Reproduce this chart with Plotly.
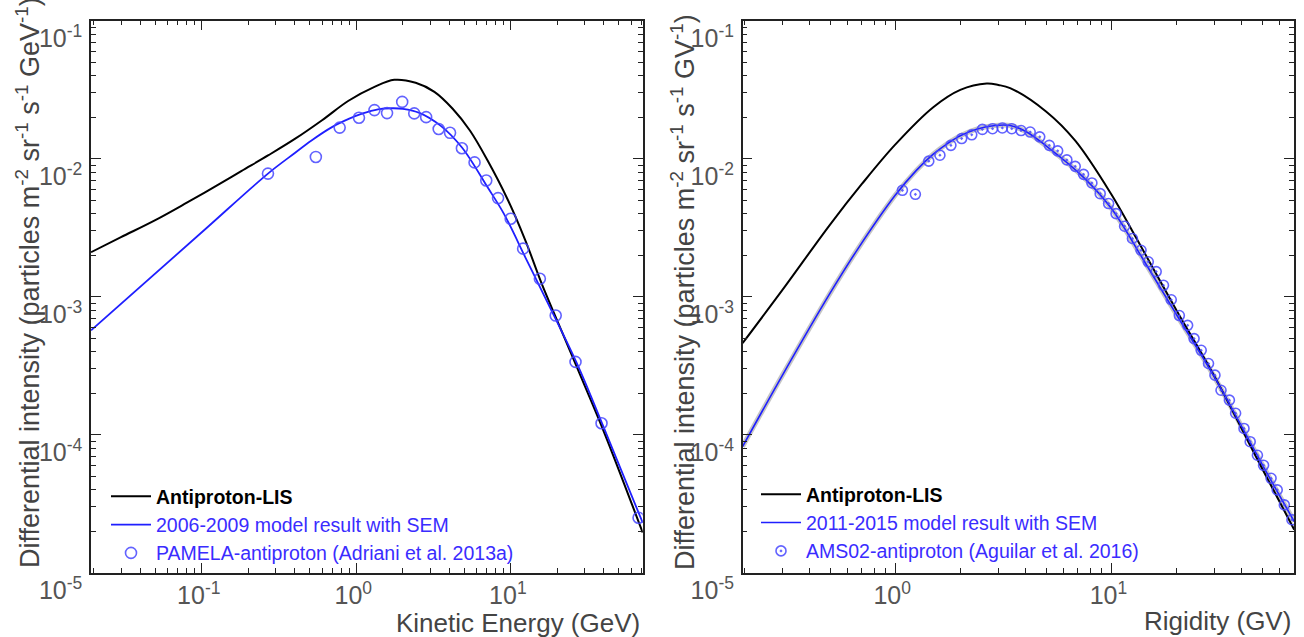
import plotly.graph_objects as go

# ---------------- Left panel: kinetic energy (GeV) ----------------
E_lis = [0.0192, 0.03, 0.05, 0.08, 0.12, 0.18, 0.27, 0.4, 0.6, 0.89, 1.3, 1.76, 2.42, 3.2, 4.2, 5.43, 7.07, 9.6, 12.4, 15.8, 20.0, 26.7, 40.0, 71.3]
I_lis = [2.1e-3, 2.7e-3, 3.59e-3, 4.8e-3, 6.22e-3, 8.13e-3, 1.06e-2, 1.39e-2, 1.9e-2, 2.63e-2, 3.3e-2, 3.73e-2, 3.55e-2, 3.05e-2, 2.3e-2, 1.6e-2, 9.7e-3, 4.98e-3, 2.56e-3, 1.25e-3, 6.66e-4, 3.1e-4, 1.05e-4, 1.95e-5]

E_mod = [0.0192, 0.1, 0.268, 0.4, 0.51, 0.7, 0.9, 1.1, 1.38, 1.7, 2.0, 2.56, 3.52, 4.84, 7.07, 9.0, 12.4, 15.8, 26.7, 40.0, 71.3]
I_mod = [5.7e-4, 2.93e-3, 7.8e-3, 1.1e-2, 1.35e-2, 1.7e-2, 1.95e-2, 2.13e-2, 2.28e-2, 2.32e-2, 2.3e-2, 2.15e-2, 1.73e-2, 1.2e-2, 6.2e-3, 4.0e-3, 1.93e-3, 1.11e-3, 3.3e-4, 1.12e-4, 2.3e-5]

E_pam = [0.268, 0.547, 0.78, 1.04, 1.31, 1.58, 1.98, 2.37, 2.83, 3.41, 4.04, 4.82, 5.82, 6.93, 8.26, 9.97, 12.0, 15.4, 19.5, 26.2, 38.6, 67.0]
I_pam = [7.8e-3, 1.03e-2, 1.68e-2, 1.98e-2, 2.25e-2, 2.14e-2, 2.58e-2, 2.13e-2, 2.0e-2, 1.64e-2, 1.54e-2, 1.19e-2, 9.4e-3, 6.95e-3, 5.18e-3, 3.67e-3, 2.23e-3, 1.35e-3, 7.3e-4, 3.37e-4, 1.21e-4, 2.5e-5]

# ---------------- Right panel: rigidity (GV) ----------------
R_lis = [0.197, 0.3, 0.5, 0.7, 1.0, 1.5, 2.0, 2.65, 3.0, 3.4, 5.0, 6.8, 10.0, 13.2, 20.0, 30.0, 50.0, 70.0]
J_lis = [4.6e-4, 1.11e-3, 3.33e-3, 6.53e-3, 1.264e-2, 2.36e-2, 3.15e-2, 3.5e-2, 3.42e-2, 3.25e-2, 2.19e-2, 1.35e-2, 5.5e-3, 2.56e-3, 7.96e-4, 2.63e-4, 5.6e-5, 2.05e-5]

R_mod = [0.197, 0.3, 0.5, 0.677, 1.0, 1.25, 1.5, 1.75, 2.0, 2.4, 2.9, 3.4, 4.0, 5.0, 7.45, 10.0, 13.8, 20.0, 30.0, 50.0, 70.0]
J_mod = [8.2e-5, 2.67e-4, 1.06e-3, 2.26e-3, 5.43e-3, 8.2e-3, 1.078e-2, 1.293e-2, 1.468e-2, 1.644e-2, 1.74e-2, 1.74e-2, 1.58e-2, 1.235e-2, 7.3e-3, 4.35e-3, 1.94e-3, 7.4e-4, 2.6e-4, 6.0e-5, 2.35e-5]

R_ams = [1.08, 1.24, 1.43, 1.61, 1.81, 2.03, 2.26, 2.53, 2.82, 3.13, 3.46, 3.82, 4.21, 4.66, 5.16, 5.64, 6.22, 6.80, 7.43, 8.12,
         8.87, 9.70, 10.5, 11.5, 12.5, 13.7, 14.8, 16.1, 17.4, 18.9, 20.6, 22.5, 24.1, 26.0, 28.1, 30.1, 32.1, 35.1, 37.5, 41.0,
         43.8, 47.3, 50.5, 54.7, 58.4, 63.0, 68.3]
J_ams = [5.9e-3, 5.52e-3, 9.6e-3, 1.06e-2, 1.25e-2, 1.40e-2, 1.49e-2, 1.63e-2, 1.65e-2, 1.67e-2, 1.65e-2, 1.60e-2, 1.56e-2, 1.44e-2, 1.25e-2, 1.14e-2, 9.8e-3, 8.8e-3, 7.7e-3, 6.67e-3,
         5.58e-3, 4.73e-3, 4.0e-3, 3.24e-3, 2.64e-3, 2.17e-3, 1.79e-3, 1.52e-3, 1.21e-3, 9.5e-4, 7.3e-4, 6.2e-4, 4.97e-4, 4.09e-4, 3.28e-4, 2.7e-4, 2.1e-4, 1.78e-4, 1.43e-4, 1.11e-4,
         8.9e-5, 7.1e-5, 6.0e-5, 4.83e-5, 3.98e-5, 3.1e-5, 2.42e-5]

y_tickvals = [1e-5, 1e-4, 1e-3, 1e-2, 1e-1]
y_ticktext = ["10<sup>-5</sup>", "10<sup>-4</sup>", "10<sup>-3</sup>", "10<sup>-2</sup>", "10<sup>-1</sup>"]
xl_tickvals = [0.1, 1, 10]
xl_ticktext = ["10<sup>-1</sup>", "10<sup>0</sup>", "10<sup>1</sup>"]
xr_tickvals = [1, 10]
xr_ticktext = ["10<sup>0</sup>", "10<sup>1</sup>"]

FONT = "Liberation Sans, Arial, sans-serif"
BLUE = "#1f1fff"
PT = "rgba(70,70,255,0.85)"
TXTBLUE = "#3a2cff"

W, H = 1304, 637
def px(x):
    return x / W
def py(y):
    return 1 - y / H

fig = go.Figure()

# left panel
fig.add_trace(go.Scatter(x=E_lis, y=I_lis, mode="lines", line=dict(color="black", width=2, shape="spline", smoothing=1.0),
                         name="<b>Antiproton-LIS</b>", xaxis="x", yaxis="y", legend="legend"))
fig.add_trace(go.Scatter(x=E_mod, y=I_mod, mode="lines", line=dict(color=BLUE, width=1.8, shape="spline", smoothing=1.0),
                         name=f'<span style="color:{TXTBLUE}">2006-2009 model result with SEM</span>', xaxis="x", yaxis="y", legend="legend"))
fig.add_trace(go.Scatter(x=E_pam, y=I_pam, mode="markers",
                         marker=dict(symbol="circle-open", size=11, color=PT, line=dict(width=1.6, color=PT)),
                         name=f'<span style="color:{TXTBLUE}">PAMELA-antiproton (Adriani et al. 2013a)</span>', xaxis="x", yaxis="y", legend="legend"))

# right panel
fig.add_trace(go.Scatter(x=R_mod, y=J_mod, mode="lines", line=dict(color="rgba(150,150,150,0.55)", width=5, shape="spline", smoothing=1.0),
                         showlegend=False, hoverinfo="skip", xaxis="x2", yaxis="y2"))
fig.add_trace(go.Scatter(x=R_lis, y=J_lis, mode="lines", line=dict(color="black", width=2, shape="spline", smoothing=1.0),
                         name="<b>Antiproton-LIS</b>", xaxis="x2", yaxis="y2", legend="legend2"))
fig.add_trace(go.Scatter(x=R_mod, y=J_mod, mode="lines", line=dict(color=BLUE, width=1.6, shape="spline", smoothing=1.0),
                         name=f'<span style="color:{TXTBLUE}">2011-2015 model result with SEM</span>', xaxis="x2", yaxis="y2", legend="legend2"))
fig.add_trace(go.Scatter(x=R_ams, y=J_ams, mode="markers",
                         marker=dict(symbol="circle-open-dot", size=10, color=PT, line=dict(width=1.6, color=PT)),
                         name=f'<span style="color:{TXTBLUE}">AMS02-antiproton (Aguilar et al. 2016)</span>', xaxis="x2", yaxis="y2", legend="legend2"))

axis_common = dict(type="log", showgrid=False, zeroline=False, showline=True, linecolor="#222", linewidth=1.5,
                   mirror="allticks", ticks="inside", ticklen=10, tickwidth=1.3, tickcolor="#222", automargin=False,
                   minor=dict(ticks="inside", ticklen=5, tickwidth=1.1, tickcolor="#222", dtick="D1", showgrid=False),
                   tickfont=dict(family=FONT, size=25, color="#555"), tickmode="array")

ydom = [py(572.7), py(20.7)]
LEG_FONT = dict(family=FONT, size=19.5, color="black")
fig.update_layout(
    width=W, height=H, margin=dict(l=0, r=0, t=0, b=0, autoexpand=False),
    paper_bgcolor="white", plot_bgcolor="white",
    font=dict(family=FONT),
    xaxis=dict(axis_common, range=[-1.717, 1.853], domain=[px(91), px(642.7)], anchor="y",
               tickvals=xl_tickvals, ticktext=xl_ticktext, ticklabelshift=-3, ticklabelstandoff=0),
    yaxis=dict(axis_common, range=[-5, -1], domain=ydom, anchor="x",
               tickvals=y_tickvals, ticktext=y_ticktext, ticklabelshift=18, ticklabelstandoff=2),
    xaxis2=dict(axis_common, range=[-0.705, 1.844], domain=[px(742.7), px(1294)], anchor="y2",
                tickvals=xr_tickvals, ticktext=xr_ticktext, ticklabelshift=-3, ticklabelstandoff=0),
    yaxis2=dict(axis_common, range=[-5, -1], domain=ydom, anchor="x2",
                tickvals=y_tickvals, ticktext=y_ticktext, ticklabelshift=18, ticklabelstandoff=2),
    legend=dict(x=px(106), y=py(477), xanchor="left", yanchor="top", bgcolor="rgba(0,0,0,0)",
                font=LEG_FONT, tracegroupgap=0, itemwidth=40),
    legend2=dict(x=px(756), y=py(475), xanchor="left", yanchor="top", bgcolor="rgba(0,0,0,0)",
                 font=LEG_FONT, tracegroupgap=0, itemwidth=40),
    annotations=[
        dict(text="Differential intensity (particles m<sup>-2</sup> sr<sup>-1</sup> s<sup>-1</sup> GeV<sup>-1</sup>)",
             xref="paper", yref="paper", x=px(28), y=py(283), textangle=-90, showarrow=False,
             xanchor="center", yanchor="middle", font=dict(family=FONT, size=27, color="#444")),
        dict(text="Differential intensity (particles m<sup>-2</sup> sr<sup>-1</sup> s<sup>-1</sup> GV<sup>-1</sup>)",
             xref="paper", yref="paper", x=px(683), y=py(292), textangle=-90, showarrow=False,
             xanchor="center", yanchor="middle", font=dict(family=FONT, size=27, color="#444")),
        dict(text="Kinetic Energy (GeV)", xref="paper", yref="paper", x=px(642), y=py(623),
             xanchor="right", yanchor="middle", showarrow=False, font=dict(family=FONT, size=26, color="#444")),
        dict(text="Rigidity (GV)", xref="paper", yref="paper", x=px(1293), y=py(621),
             xanchor="right", yanchor="middle", showarrow=False, font=dict(family=FONT, size=26, color="#444")),
    ],
)

fig.write_html("out.html")
